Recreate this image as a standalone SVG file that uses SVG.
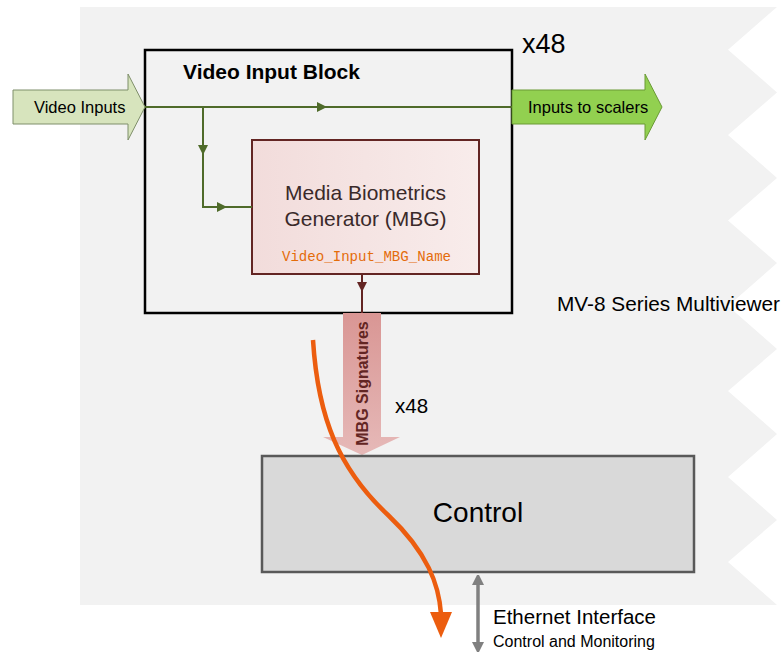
<svg xmlns="http://www.w3.org/2000/svg" width="784" height="654" viewBox="0 0 784 654">
<defs>
<style>
text{font-family:"Liberation Sans",Arial,sans-serif;fill:#000}
.g{stroke:#4f6b2a;stroke-width:2;fill:none}
</style>
<linearGradient id="pinkg" x1="0" y1="0" x2="1" y2="0">
<stop offset="0" stop-color="#f2dcdb"/><stop offset="1" stop-color="#f8eceb"/>
</linearGradient>
<linearGradient id="sigg" x1="0" y1="0" x2="0" y2="1">
<stop offset="0" stop-color="#d99694"/><stop offset="1" stop-color="#e6b9b8"/>
</linearGradient>
<marker id="ga" viewBox="0 0 10 10" refX="5" refY="5" markerWidth="10" markerHeight="10" markerUnits="userSpaceOnUse" orient="auto"><path d="M0,0 L10,5 L0,10 Z" fill="#4f6b2a"/></marker>
<marker id="ra" viewBox="0 0 10 10" refX="5" refY="5" markerWidth="10" markerHeight="10" markerUnits="userSpaceOnUse" orient="auto"><path d="M0,0 L10,5 L0,10 Z" fill="#632523"/></marker>
<marker id="gyS" viewBox="0 0 10 12" refX="0" refY="6" markerWidth="10" markerHeight="12" markerUnits="userSpaceOnUse" orient="auto-start-reverse"><path d="M0,0 L12,6 L0,12 Z" fill="#808080"/></marker>
</defs>
<rect width="784" height="654" fill="#fff"/>
<g id="background">
<polygon fill="#f2f2f2" points="80,7 777,7 728,49.7 777,92.4 728,135 777,178 728,220.5 777,263 728,306 777,349 728,391 777,434 728,477 777,520 728,562 777,605 80,605"/>
<text x="557" y="311" font-size="20.8">MV-8 Series Multiviewer</text>
</g>
<g id="video-input-block">
<rect x="145" y="50" width="367" height="263" fill="none" stroke="#000" stroke-width="2.5"/>
<text x="183" y="79" font-size="21" font-weight="bold">Video Input Block</text>
<text x="522" y="53" font-size="27">x48</text>
</g>
<g id="video-inputs">
<polygon points="13,90 128,90 128,74 145,107 128,140 128,124 13,124" fill="#d7e4bd" stroke="#7f8f6a" stroke-width="1"/>
<text x="34" y="113" font-size="16.5">Video Inputs</text>
</g>
<g id="inputs-to-scalers">
<polygon points="512,90 645,90 645,74 662,107 645,140 645,124 512,124" fill="#92d050" stroke="#6a9a35" stroke-width="1"/>
<text x="528" y="113" font-size="16.5">Inputs to scalers</text>
</g>
<g id="mbg">
<rect x="252" y="140" width="227" height="134" fill="url(#pinkg)" stroke="#632523" stroke-width="2"/>
<text x="365.5" y="200" font-size="21" text-anchor="middle" style="fill:#3a2a2a">Media Biometrics</text>
<text x="365.5" y="226" font-size="21" text-anchor="middle" style="fill:#3a2a2a">Generator (MBG)</text>
<text x="366.5" y="261" font-size="14.1" text-anchor="middle" style="font-family:'Liberation Mono','Courier New',monospace;fill:#e46c0a">Video_Input_MBG_Name</text>
</g>
<g id="mbg-signatures">
<polygon points="343,313 381,313 381,437 400,437 362,455 323,437 343,437" fill="url(#sigg)"/>
<text transform="translate(368,383.5) rotate(-90)" font-size="16" font-weight="bold" text-anchor="middle" style="fill:#632523">MBG Signatures</text>
<text x="395" y="413" font-size="20.5">x48</text>
</g>
<g id="control">
<rect x="262" y="456" width="432" height="116" fill="#d9d9d9" stroke="#595959" stroke-width="2.5"/>
<text x="478" y="522" font-size="28" text-anchor="middle">Control</text>
</g>
<g id="ethernet">
<text x="493" y="624" font-size="20.5">Ethernet Interface</text>
<text x="493" y="647" font-size="16">Control and Monitoring</text>
</g>
<g id="connectors">
<line class="g" x1="145" y1="107" x2="512" y2="107"/>
<line class="g" x1="145" y1="107" x2="322" y2="107" marker-end="url(#ga)"/>
<polyline class="g" points="203,107 203,150" marker-end="url(#ga)"/>
<polyline class="g" points="203,150 203,207 222,207" marker-end="url(#ga)"/>
<line class="g" x1="222" y1="207" x2="252" y2="207"/>
<line x1="362" y1="274" x2="362" y2="287" stroke="#632523" stroke-width="2" marker-end="url(#ra)"/>
<line x1="362" y1="287" x2="362" y2="313" stroke="#632523" stroke-width="2"/>
<line x1="478" y1="585" x2="478" y2="642" stroke="#808080" stroke-width="3.5" marker-start="url(#gyS)" marker-end="url(#gyS)"/>
<path d="M313,340 C318,420 340,470 388,515 C428,553 439,585 441,614" fill="none" stroke="#ec5d0f" stroke-width="4.5"/>
<polygon points="430,612 452,612 441,638" fill="#ec5d0f"/>
</g>
</svg>
